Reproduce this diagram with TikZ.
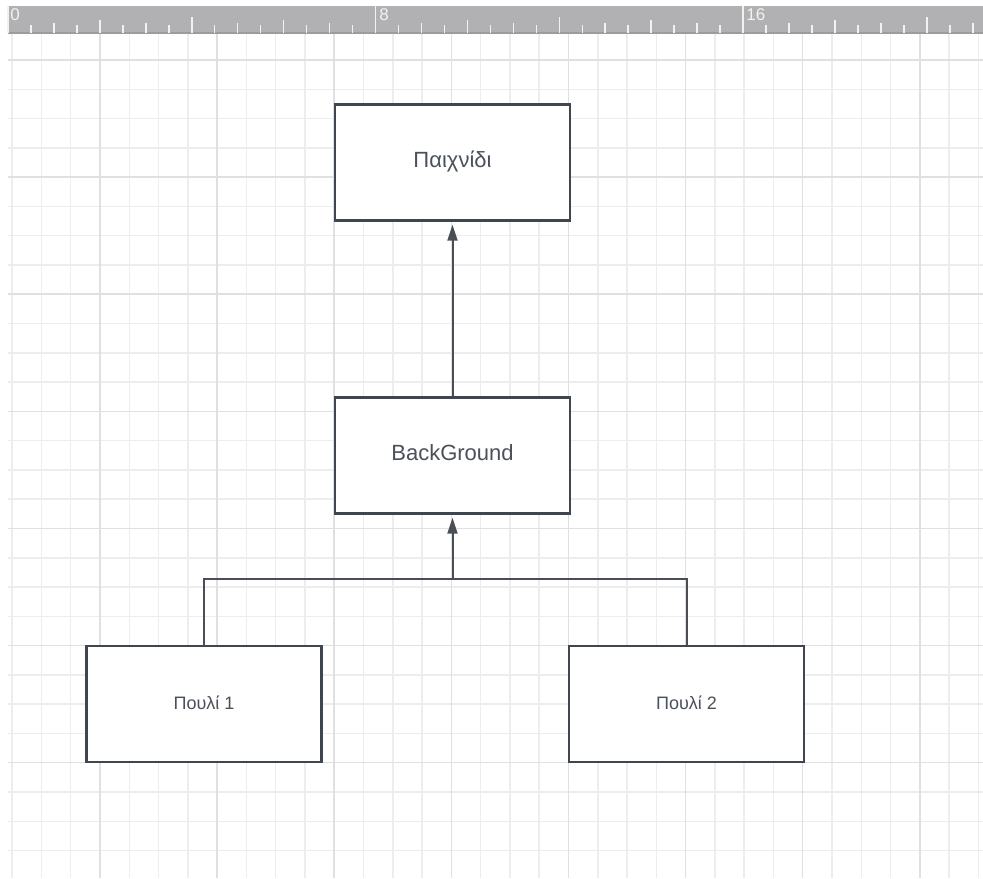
\documentclass[tikz,border=0pt]{standalone}
\usepackage{fontspec}
\setmainfont{Liberation Sans}
\usetikzlibrary{arrows.meta}
\definecolor{gridminor}{HTML}{EDEDED}
\definecolor{gridmajor}{HTML}{E0E0E0}
\definecolor{rulerbg}{HTML}{B1B1B3}
\definecolor{rulerline}{HTML}{9C9C9E}
\definecolor{rulerfg}{HTML}{F2F2F2}
\definecolor{boxline}{HTML}{3F4650}
\definecolor{edgeline}{HTML}{4A4F56}
\definecolor{textc}{HTML}{4A515A}
\newcommand{\bigf}{\fontsize{11pt}{13pt}\selectfont}
\newcommand{\smallf}{\fontsize{9pt}{11pt}\selectfont}
\newcommand{\rulerf}{\fontsize{8.5pt}{10pt}\selectfont}
\begin{document}
\begin{tikzpicture}[x=0.5pt,y=-0.5pt,
  box/.style={draw=boxline, line width=1.2pt, fill=white, minimum width=117.5pt,
    minimum height=58pt, inner sep=0pt, text=textc, text height=0.75em, text depth=0.25em},
  edge/.style={draw=edgeline, line width=1pt},
  arrowed/.style={-{Triangle[length=8pt,width=5pt]}, shorten >=1.5pt},
  rulerlabel/.style={anchor=north west, inner sep=0pt, text=rulerfg, font=\rulerf}]
\useasboundingbox (0,0) rectangle (983,878);
\fill[white] (0,0) rectangle (983,878);
% grid
\begin{scope}
\clip (8,33) rectangle (983,878);
\foreach \j in {-3,...,30}
  \draw[gridminor, line width=0.75pt] ({100+29.28*\j},33) -- ({100+29.28*\j},878);
\foreach \k in {0,...,27}
  \draw[gridminor, line width=0.75pt] (8,{60+29.28*\k}) -- (983,{60+29.28*\k});
\foreach \j in {0,4,...,28}
  \draw[gridmajor, line width=0.75pt] ({100+29.28*\j},33) -- ({100+29.28*\j},878);
\foreach \k in {0,4,...,24}
  \draw[gridmajor, line width=0.75pt] (8,{60+29.28*\k}) -- (983,{60+29.28*\k});
\end{scope}
% ruler
\fill[rulerbg] (8,6) rectangle (983,33);
\draw[rulerline, line width=1pt] (8,33) -- (983,33);
\foreach \i in {0,...,42}{
  \pgfmathsetmacro\tx{8+22.97*\i}
  \pgfmathtruncatemacro\ma{mod(\i,16)}
  \pgfmathtruncatemacro\mb{mod(\i,8)}
  \pgfmathtruncatemacro\mc{mod(\i,4)}
  \pgfmathtruncatemacro\md{mod(\i,2)}
  \ifnum\ma=0 \def\ty{6}\else\ifnum\mb=0 \def\ty{17}\else\ifnum\mc=0 \def\ty{20}\else\ifnum\md=0 \def\ty{22.5}\else\def\ty{25}\fi\fi\fi\fi
  \draw[rulerfg, line width=0.75pt] (\tx,\ty) -- (\tx,32.5);
}
\node[rulerlabel] (r0) at (10,8) {0};
\node[rulerlabel] (r8) at (379,8) {8};
\node[rulerlabel] (r16) at (746,8) {16};
% nodes
\node[box, font=\bigf] (game) at (452.5,162.5) {Παιχνίδι};
\node[box, font=\bigf] (bg) at (452.5,455.5) {BackGround};
\node[box, font=\smallf] (p1) at (204,704) {Πουλί 1};
\node[box, font=\smallf] (p2) at (686.5,704) {Πουλί 2};
\coordinate (jn) at (452.5,579);
% connectors
\draw[edge] (p1.north) |- (jn) -| (p2.north);
\draw[edge, arrowed] (jn) -- (bg.south);
\draw[edge, arrowed] (bg.north) -- (game.south);
\end{tikzpicture}
\end{document}
